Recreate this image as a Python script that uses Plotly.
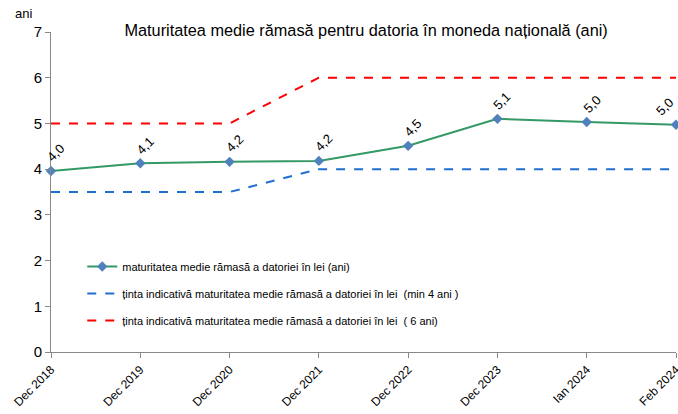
import plotly.graph_objects as go

categorii = ["Dec 2018", "Dec 2019", "Dec 2020", "Dec 2021", "Dec 2022", "Dec 2023", "Ian 2024", "Feb 2024"]
maturitate = [3.96, 4.13, 4.16, 4.18, 4.51, 5.10, 5.03, 4.97]
etichete = ["4,0", "4,1", "4,2", "4,2", "4,5", "5,1", "5,0", "5,0"]
tinta_min = [3.5, 3.5, 3.5, 4, 4, 4, 4, 4]
tinta_6 = [5, 5, 5, 6, 6, 6, 6, 6]

fnt = "Liberation Sans, Arial, sans-serif"

fig = go.Figure()
fig.add_trace(go.Scatter(x=categorii, y=maturitate, mode="lines+markers", legendgroup="a",
                         name="maturitatea medie rămasă a datoriei în lei (ani)",
                         line=dict(color="#339966", width=2), cliponaxis=False,
                         marker=dict(symbol="diamond", size=8, color="#4F81BD")))
fig.add_trace(go.Scatter(x=categorii, y=tinta_min, mode="lines", cliponaxis=False, legendgroup="b",
                         name="ținta indicativă maturitatea medie rămasă a datoriei în lei  (min 4 ani )",
                         line=dict(color="#1F6FD0", width=2, dash="dash")))
fig.add_trace(go.Scatter(x=categorii, y=tinta_6, mode="lines", cliponaxis=False, legendgroup="c",
                         name="ținta indicativă maturitatea medie rămasă a datoriei în lei  ( 6 ani)",
                         line=dict(color="#FF0000", width=2, dash="dash")))

n = len(categorii)
for i, (c, v, t) in enumerate(zip(categorii, maturitate, etichete)):
    fig.add_annotation(x=c, y=v, text=t, textangle=-45, showarrow=False,
                       yshift=18, xshift=(-11 if i == n - 1 else 5),
                       font=dict(size=13, color="#000"))

fig.add_annotation(x=0, y=1, xref="paper", yref="paper", xanchor="center", yanchor="middle",
                   xshift=-28, yshift=19, text="ani", showarrow=False,
                   font=dict(size=13, color="#000"))

fig.update_layout(
    width=678, height=414,
    margin=dict(l=51, r=2, t=32, b=62),
    paper_bgcolor="white", plot_bgcolor="white",
    font=dict(family=fnt, color="#000"),
    title=dict(text="Maturitatea medie rămasă pentru datoria în moneda națională (ani)",
               x=0.54, xanchor="center", y=0.928, yanchor="middle",
               font=dict(size=16.3, color="#000")),
    showlegend=True,
    legend=dict(x=0.05, y=0.3125, xanchor="left", yanchor="top",
                bgcolor="rgba(0,0,0,0)", font=dict(size=11), tracegroupgap=8,
                itemwidth=30),
    xaxis=dict(range=[0, 7], showgrid=False, showline=True, linecolor="#888",
               ticks="outside", ticklen=5, tickcolor="#888", tickangle=-45,
               tickfont=dict(size=12), automargin=False),
    yaxis=dict(range=[0, 7], dtick=1, showgrid=False, showline=True, linecolor="#888",
               ticks="outside", ticklen=5, tickcolor="#888", zeroline=False,
               tickfont=dict(size=15), automargin=False),
)
fig.write_html("out.html", config={"displayModeBar": False},
               post_script="document.body.style.margin='0';")
